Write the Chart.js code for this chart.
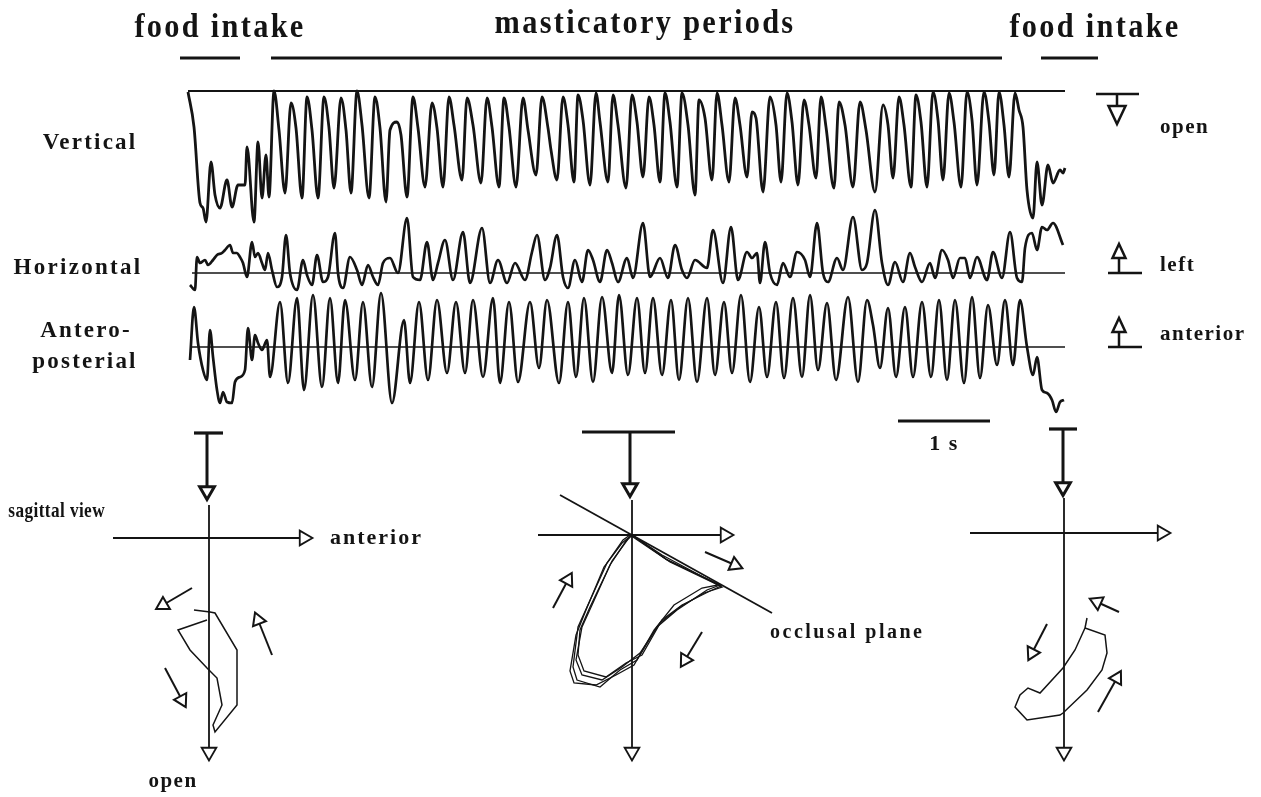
<!DOCTYPE html>
<html>
<head>
<meta charset="utf-8">
<script src="https://cdn.jsdelivr.net/npm/chart.js@4.4.1/dist/chart.umd.min.js"></script>
<style>
  html, body { margin: 0; padding: 0; background: #fff; }
  body { width: 1261px; height: 797px; position: relative; overflow: hidden; }
  canvas { position: absolute; }
</style>
</head>
<body>
<canvas id="traces" width="1261" height="460" style="left:0;top:0"></canvas>
<canvas id="sagLeft" width="460" height="377" style="left:0;top:420px"></canvas>
<canvas id="sagMid" width="440" height="377" style="left:520px;top:420px"></canvas>
<canvas id="sagRight" width="260" height="377" style="left:960px;top:420px"></canvas>
<script>
// Recording sampled at 92 Hz (the 1 s scale bar spans 92 samples).
// Each point is [sample, deflection]; deflection > 0 is up on the page.
const SAMPLE_RATE = 92;
const INK = '#141414';

const PHASE_LABELS = ['food intake', 'masticatory periods', 'food intake'];
const PHASE_START = [-8, 83, 853];
const PHASE_END = [52, 814, 910];

const TRACE_LABELS = ['Vertical', 'Horizontal', 'Antero-', 'posterial'];
const DIRECTION_LABELS = ['open', 'left', 'anterior'];

// vertical (jaw opening is down)
const V_INTAKE_1 = [[0,-1],[6,-36],[12,-112],[15,-117],[18,-131],[23,-71],[27,-104],[32,-117],[39,-89],[44,-116],[50,-94],[57,-94],[59,-56],[66,-131],[70,-51],[74,-107],[78,-64],[81,-106]];
const V_CHEWING = [[86,0],[91,-39],[97,-102],[103,-12],[108,-37],[114,-107],[119,-6],[124,-39],[130,-107],[136,-6],[141,-37],[146,-97],[153,-7],[158,-39],[163,-102],[169,0],[174,-34],[181,-107],[187,-6],[192,-37],[198,-111],[202,-39],[209,-31],[213,-44],[219,-106],[225,-6],[230,-37],[237,-96],[244,-12],[249,-37],[255,-96],[261,-6],[266,-34],[274,-89],[279,-7],[285,-34],[293,-92],[299,-7],[304,-36],[311,-96],[316,-7],[321,-36],[328,-96],[335,-7],[340,-39],[348,-84],[354,-6],[360,-37],[363,-59],[369,-89],[375,-6],[380,-34],[386,-91],[390,-4],[395,-29],[402,-94],[408,-2],[412,-31],[420,-91],[425,-4],[430,-34],[438,-97],[444,-4],[449,-31],[455,-86],[461,-6],[466,-34],[472,-91],[477,-2],[482,-31],[489,-96],[494,-2],[500,-34],[507,-104],[511,-9],[517,-27],[524,-89],[529,-2],[534,-34],[541,-91],[547,-7],[552,-34],[559,-86],[564,-21],[568,-27],[575,-101],[582,-6],[588,-34],[593,-91],[599,-2],[604,-31],[610,-94],[616,-9],[621,-34],[628,-87],[633,-6],[638,-36],[646,-97],[651,-11],[657,-34],[665,-96],[672,-11],[678,-39],[687,-101],[695,-14],[700,-34],[705,-87],[711,-6],[716,-34],[723,-96],[728,-4],[733,-31],[739,-96],[745,-1],[750,-29],[755,-89],[761,-2],[766,-31],[773,-96],[779,-1],[784,-29],[789,-94],[796,-1],[801,-31],[806,-84],[811,-1],[816,-34],[821,-86],[827,-2]];
const V_INTAKE_2 = [[831,-19],[835,-36],[839,-99],[845,-127],[849,-71],[854,-114],[860,-74],[865,-92],[872,-79],[875,-82],[877,-77]];

// horizontal (left is up)
const H_INTAKE_1 = [[2,-12],[7,-17],[9,16],[12,10],[17,13],[20,8],[25,13],[29,18],[34,20],[37,23],[42,28],[45,20],[49,20],[52,16],[55,10],[59,-4],[64,31],[67,16],[70,20],[74,10],[77,3],[80,20],[84,3]];
const H_CHEWING = [[89,-14],[94,-4],[98,38],[102,0],[109,-17],[115,13],[119,-2],[124,-12],[129,18],[135,-9],[140,-4],[147,40],[150,0],[155,-15],[162,16],[169,3],[174,-12],[180,8],[185,-4],[190,-12],[195,10],[202,15],[210,0],[219,55],[225,-4],[232,-7],[239,31],[245,-7],[250,10],[257,33],[265,-7],[275,41],[282,-10],[294,45],[302,-10],[310,13],[319,-10],[327,10],[337,-7],[344,21],[349,38],[357,-7],[362,5],[369,38],[375,-4],[380,-15],[387,13],[394,-9],[400,23],[405,13],[412,-9],[419,23],[424,10],[430,-9],[439,15],[445,-5],[455,50],[462,-4],[472,15],[480,-5],[487,28],[494,3],[499,-5],[507,13],[519,5],[525,43],[535,-10],[543,46],[550,-7],[559,21],[564,15],[569,20],[572,-10],[577,31],[582,0],[589,-12],[595,10],[602,-4],[609,21],[617,13],[622,-4],[629,50],[635,0],[640,-9],[649,15],[655,3],[665,56],[674,3],[679,10],[687,63],[694,10],[700,-12],[707,11],[715,-9],[722,20],[727,6],[734,-9],[742,10],[747,-5],[754,23],[760,13],[765,-5],[772,15],[777,15],[782,-5],[789,16],[799,-7],[805,21],[814,-5],[822,41],[829,-5],[834,-9]];
const H_INTAKE_2 = [[837,25],[844,40],[849,23],[854,46],[859,43],[865,50],[875,28]];

// antero-posterior (anterior is up)
const AP_INTAKE_1 = [[2,-13],[6,40],[10,4],[15,-23],[19,-33],[22,17],[25,-10],[29,-43],[32,-56],[35,-45],[39,-55],[44,-56],[47,-35],[52,-30],[57,-23],[60,19],[64,-13],[67,12],[70,4],[74,-3],[79,7],[82,-30]];
const AP_CHEWING = [[92,45],[100,-36],[109,49],[116,-43],[125,52],[134,-40],[142,49],[150,-36],[157,47],[167,-33],[175,45],[184,-40],[193,54],[204,-56],[216,27],[222,-36],[231,45],[240,-33],[249,47],[259,-26],[268,45],[277,-26],[285,47],[295,-30],[305,49],[312,-36],[321,45],[330,-35],[342,45],[351,-21],[359,47],[371,-36],[380,45],[388,-30],[396,49],[405,-35],[414,50],[424,-26],[431,52],[440,-28],[449,49],[457,-26],[465,49],[474,-28],[483,47],[491,-33],[500,49],[509,-35],[519,49],[527,-28],[536,45],[544,-26],[553,52],[562,-35],[571,40],[579,-30],[588,45],[596,-31],[605,49],[614,-30],[622,52],[630,-23],[639,44],[648,-33],[660,50],[670,-35],[679,47],[685,22],[692,-21],[700,39],[708,-30],[717,40],[725,-30],[734,45],[743,-30],[751,47],[759,-33],[767,47],[776,-36],[784,50],[792,-31],[800,42],[809,-18],[817,47],[825,-18],[832,47]];
const AP_INTAKE_2 = [[839,0],[845,-28],[849,-10],[854,-43],[859,-46],[864,-53],[868,-65],[872,-55],[876,-53]];

// sagittal views: [anterior, vertical] relative to the axis crossing
const LEFT_LOOP = [[-15,-72],[1,-74],[6,-75],[28,-112],[28,-167],[6,-194],[4,-187],[13,-167],[8,-140],[-2,-130],[-19,-112],[-31,-92],[-2,-82]];
const LEFT_ARROWS = [[[-17,-50],[-46,-67]], [[63,-117],[49,-82]], [[-44,-130],[-27,-162]]];

const MID_LOOP_1 = [[-2,0],[35,-25],[88,-50],[75,-55],[45,-75],[25,-92],[5,-125],[-12,-135],[-32,-152],[-55,-145],[-59,-132],[-54,-92],[-45,-72],[-25,-28],[-9,-5],[-2,0]];
const MID_LOOP_2 = [[0,0],[30,-20],[90,-52],[72,-58],[48,-72],[28,-88],[8,-118],[-10,-132],[-30,-145],[-50,-140],[-56,-125],[-50,-92],[-40,-70],[-22,-30],[-6,-6],[0,0]];
const MID_LOOP_3 = [[0,0],[38,-27],[86,-50],[70,-53],[42,-70],[22,-95],[2,-130],[-16,-140],[-36,-150],[-58,-148],[-62,-136],[-56,-100],[-46,-75],[-28,-32],[-10,-8],[0,0]];
const MID_LOOP_4 = [[0,0],[34,-24],[89,-51],[78,-56],[50,-70],[30,-85],[10,-120],[-6,-128],[-26,-142],[-48,-136],[-54,-120],[-52,-95],[-42,-72],[-20,-26],[-4,-4],[0,0]];
const MID_PLANE = [[-72,40],[140,-78]];
const MID_ARROWS = [[[73,-17],[103,-30]], [[70,-97],[53,-125]], [[-79,-73],[-64,-45]]];

const RIGHT_LOOP = [[23,-85],[21,-95],[41,-102],[43,-120],[38,-137],[23,-157],[-1,-180],[-4,-182],[-37,-187],[-49,-174],[-44,-162],[-36,-155],[-24,-160],[-1,-135],[11,-117],[21,-95]];
const RIGHT_ARROWS = [[[55,-79],[33,-69]], [[-17,-91],[-32,-120]], [[34,-179],[53,-145]]];

// ---------------------------------------------------------------
const SERIF = '"Liberation Serif", "Times New Roman", serif';
const V_OFFSET = -11, H_OFFSET = -193, AP_OFFSET = -267;

function traceSet(parts, offset, width) {
  const pts = [].concat(...parts);
  return {
    data: pts.map(p => ({ x: p[0], y: p[1] + offset })),
    borderColor: INK, borderWidth: width, pointRadius: 0,
    cubicInterpolationMode: 'monotone', clip: false
  };
}

// bold serif label; sx < 1 narrows it like the condensed type of the figure
function text(ctx, s, x, y, size, spacing, align, sx) {
  ctx.save();
  ctx.font = 'bold ' + size + 'px ' + SERIF;
  ctx.letterSpacing = spacing + 'px';
  ctx.textAlign = align || 'left';
  ctx.textBaseline = 'middle';
  ctx.translate(x, y);
  ctx.scale(sx || 1, 1);
  ctx.fillText(s, 0, 0);
  ctx.restore();
}

function openTriangle(ctx, cx, cy, w, h, down) {
  ctx.beginPath();
  if (down) {
    ctx.moveTo(cx - w / 2, cy - h / 2); ctx.lineTo(cx + w / 2, cy - h / 2); ctx.lineTo(cx, cy + h / 2);
  } else {
    ctx.moveTo(cx - w / 2, cy + h / 2); ctx.lineTo(cx + w / 2, cy + h / 2); ctx.lineTo(cx, cy - h / 2);
  }
  ctx.closePath();
  ctx.fillStyle = '#fff'; ctx.fill();
  ctx.stroke();
  ctx.fillStyle = INK;
}

const traceDecor = {
  id: 'traceDecor',
  afterDraw(chart) {
    const ctx = chart.ctx, xs = chart.scales.x, ys = chart.scales.y;
    ctx.save();
    ctx.fillStyle = INK; ctx.strokeStyle = INK; ctx.lineCap = 'butt';

    // phase bars and their labels
    const labelAt = [220, 645, 1095];
    ctx.lineWidth = 3;
    PHASE_LABELS.forEach((lab, i) => {
      ctx.beginPath();
      ctx.moveTo(xs.getPixelForValue(PHASE_START[i]), 58);
      ctx.lineTo(xs.getPixelForValue(PHASE_END[i]), 58);
      ctx.stroke();
      text(ctx, lab, labelAt[i], i === 1 ? 24 : 28, 33, 2.5, 'center', 0.92);
    });

    // trace names
    const vy = ys.getPixelForValue(V_OFFSET), hy = ys.getPixelForValue(H_OFFSET), ay = ys.getPixelForValue(AP_OFFSET);
    text(ctx, TRACE_LABELS[0], 90, vy + 52, 23, 2.2, 'center');
    text(ctx, TRACE_LABELS[1], 78, hy - 5, 23, 2.3, 'center');
    text(ctx, TRACE_LABELS[2], 86, ay - 16, 23, 2.2, 'center');
    text(ctx, TRACE_LABELS[3], 85, ay + 15, 23, 2.2, 'center');

    // direction glyphs on the right
    ctx.lineWidth = 2.5;
    ctx.beginPath(); ctx.moveTo(1096, vy + 3); ctx.lineTo(1139, vy + 3);
    ctx.moveTo(1117, vy + 3); ctx.lineTo(1117, vy + 14); ctx.stroke();
    openTriangle(ctx, 1117, vy + 24, 17, 18, true);
    text(ctx, DIRECTION_LABELS[0], 1160, 128, 21, 1.5);
    [[hy, 1], [ay, 2]].forEach(([by, k]) => {
      ctx.beginPath(); ctx.moveTo(1108, by); ctx.lineTo(1142, by);
      ctx.moveTo(1119, by); ctx.lineTo(1119, by - 15); ctx.stroke();
      openTriangle(ctx, 1119, by - 22, 13, 14, false);
      text(ctx, DIRECTION_LABELS[k], 1160, k === 1 ? by - 7 : by - 12, 21, 1.5);
    });

    // 1 s scale bar
    const sb0 = 710;
    ctx.lineWidth = 3;
    ctx.beginPath();
    ctx.moveTo(xs.getPixelForValue(sb0), 421);
    ctx.lineTo(xs.getPixelForValue(sb0 + SAMPLE_RATE), 421);
    ctx.stroke();
    text(ctx, '1 s', xs.getPixelForValue(sb0 + SAMPLE_RATE / 2), 444, 22, 1.5, 'center');
    ctx.restore();
  }
};

new Chart(document.getElementById('traces'), {
  type: 'line',
  data: {
    datasets: [
      traceSet([V_INTAKE_1, V_CHEWING, V_INTAKE_2], V_OFFSET, 2.8),
      traceSet([H_INTAKE_1, H_CHEWING, H_INTAKE_2], H_OFFSET, 2.7),
      traceSet([AP_INTAKE_1, AP_CHEWING, AP_INTAKE_2], AP_OFFSET, 2.7),
      traceSet([[[0, 0], [877, 0]]], V_OFFSET, 1.8),
      traceSet([[[4, 0], [877, 0]]], H_OFFSET, 1.6),
      traceSet([[[4, 0], [877, 0]]], AP_OFFSET, 1.6)
    ]
  },
  options: {
    responsive: false, animation: false, events: [],
    layout: { autoPadding: false, padding: { left: 188, right: 196, top: 80, bottom: 40 } },
    scales: {
      x: { type: 'linear', display: false, min: 0, max: 877 },
      y: { type: 'linear', display: false, min: -340, max: 0 }
    },
    plugins: { legend: { display: false }, tooltip: { enabled: false } }
  },
  plugins: [traceDecor]
});

// ---------------- sagittal views ----------------
function lineSet(pts, width) {
  return {
    data: pts.map(p => ({ x: p[0], y: p[1] })),
    showLine: true, borderColor: INK, borderWidth: width, pointRadius: 0,
    tension: 0, clip: false
  };
}

function arrowSet(pts, width, r) {
  const a = pts[pts.length - 2], b = pts[pts.length - 1];
  const rot = Math.atan2(b[0] - a[0], b[1] - a[1]) * 180 / Math.PI;
  const ds = lineSet(pts, width);
  ds.pointRadius = pts.map((p, i) => (i === pts.length - 1 ? r : 0));
  ds.pointStyle = 'triangle';
  ds.pointRotation = rot;
  ds.pointBackgroundColor = '#fff';
  ds.pointBorderColor = INK;
  ds.pointBorderWidth = width;
  return ds;
}

// axes of one view: [barLeft, barRight, barY, stemX, stemEnd, vTop, vBottom, hLeft, hRight]
function frameSets(f) {
  return [
    arrowSet([[f[3], f[2]], [f[3], f[4]]], 3, 8.5),
    lineSet([[f[0], f[2]], [f[1], f[2]]], 3.2),
    arrowSet([[0, f[5]], [0, f[6]]], 1.8, 8.5),
    arrowSet([[f[7], 0], [f[8], 0]], 1.8, 8.5)
  ];
}

function sagittal(id, ranges, sets, labels) {
  new Chart(document.getElementById(id), {
    type: 'scatter',
    data: { datasets: sets },
    options: {
      responsive: false, animation: false, events: [],
      layout: { autoPadding: false, padding: 0 },
      scales: {
        x: { type: 'linear', display: false, min: ranges[0], max: ranges[1] },
        y: { type: 'linear', display: false, min: ranges[2], max: ranges[3] }
      },
      plugins: { legend: { display: false }, tooltip: { enabled: false } }
    },
    plugins: [{
      id: 'sagText',
      afterDraw(chart) {
        const ctx = chart.ctx, xs = chart.scales.x, ys = chart.scales.y;
        ctx.save();
        ctx.fillStyle = INK;
        labels.forEach(l => text(ctx, l.t, xs.getPixelForValue(l.x), ys.getPixelForValue(l.y), l.size, l.sp, l.align, l.sx));
        ctx.restore();
      }
    }]
  });
}

sagittal('sagLeft', [-209, 251, -259, 118],
  [...LEFT_ARROWS.map(a => arrowSet(a, 2, 8)), lineSet(LEFT_LOOP, 1.5),
   ...frameSets([-15, 14, 105, -2, 47, 33, -214, -96, 95])],
  [
    { t: 'sagittal view', x: -104, y: 26, size: 21, sp: 0.5, align: 'right', sx: 0.82 },
    { t: 'anterior', x: 121, y: 0, size: 22, sp: 2, align: 'left' },
    { t: 'open', x: -36, y: -244, size: 21, sp: 1.5, align: 'center' }
  ]);

sagittal('sagMid', [-112, 328, -262, 115],
  [...MID_ARROWS.map(a => arrowSet(a, 2, 8)), lineSet(MID_PLANE, 1.8),
   lineSet(MID_LOOP_1, 1.3), lineSet(MID_LOOP_2, 1.3), lineSet(MID_LOOP_3, 1.3), lineSet(MID_LOOP_4, 1.3),
   ...frameSets([-50, 43, 103, -2, 47, 35, -217, -94, 93])],
  [
    { t: 'occlusal plane', x: 138, y: -98, size: 20, sp: 2.5, align: 'left' }
  ]);

sagittal('sagRight', [-104, 156, -264, 113],
  [...RIGHT_ARROWS.map(a => arrowSet(a, 2, 8)), lineSet(RIGHT_LOOP, 1.5),
   ...frameSets([-15, 13, 104, -1, 46, 35, -219, -94, 98])],
  []);
</script>
</body>
</html>
